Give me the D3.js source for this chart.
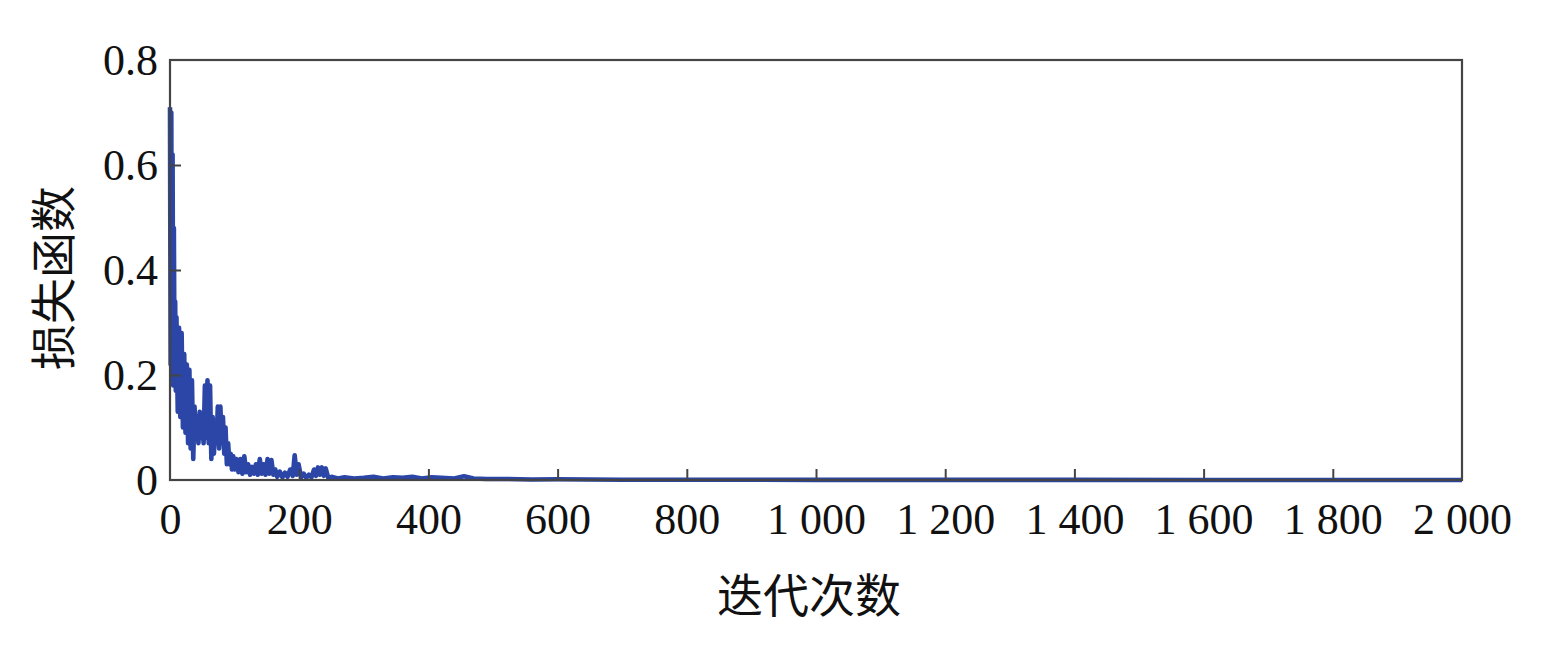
<!DOCTYPE html>
<html>
<head>
<meta charset="utf-8">
<script src="https://cdn.jsdelivr.net/npm/d3@7"></script>
<style>
  html, body { margin: 0; padding: 0; background: #fff; }
  svg { display: block; }
</style>
</head>
<body>
<svg id="chart" width="1549" height="653"></svg>
<script>
// ---- data ----
const iterations = [
  0,1,2,3,4,5,6,7,8,9,10,12,14,16,18,20,22,24,26,28,30,32,34,36,38,40,42,44,46,48,50,
  52,54,56,58,60,62,64,66,68,70,72,74,76,78,80,82,84,86,88,90,92,94,96,98,100,
  103,106,109,112,115,118,121,124,127,130,133,136,139,142,145,148,151,154,157,160,
  163,166,170,174,178,182,186,190,193,196,199,203,207,211,215,219,223,226,229,232,
  235,238,241,245,250,260,270,285,300,315,330,345,360,375,390,405,420,440,455,470,
  490,520,560,600,650,700,800,1000,1200,1400,1600,1800,2000
];
const loss = [
  0.71,0.22,0.70,0.19,0.62,0.18,0.48,0.20,0.34,0.17,0.31,0.13,0.29,0.12,0.28,0.10,0.24,0.09,0.22,0.07,0.21,
  0.06,0.19,0.04,0.14,0.08,0.12,0.07,0.13,0.08,0.12,
  0.07,0.18,0.08,0.19,0.07,0.18,0.04,0.12,0.05,0.11,0.07,0.14,0.06,0.14,0.07,0.12,0.05,0.10,0.03,0.07,0.03,0.05,0.02,0.045,0.02,
  0.04,0.015,0.04,0.012,0.045,0.015,0.03,0.01,0.025,0.012,0.03,0.01,0.04,0.012,0.03,0.01,0.04,0.012,0.038,0.01,
  0.02,0.006,0.016,0.005,0.014,0.006,0.02,0.008,0.047,0.01,0.03,0.005,0.012,0.004,0.01,0.005,0.02,0.008,0.024,0.01,
  0.024,0.008,0.022,0.004,0.006,0.003,0.005,0.003,0.004,0.006,0.003,0.005,0.004,0.006,0.003,0.005,0.004,0.003,0.007,0.003,
  0.002,0.002,0.001,0.0015,0.001,0.0005,0.0005,0.0003,0.0002,0.0002,0.0001,0.0001,0.0001
];
const xTicks = [0,200,400,600,800,1000,1200,1400,1600,1800,2000];
const xTickLabels = ["0","200","400","600","800","1 000","1 200","1 400","1 600","1 800","2 000"];
const yTicks = [0,0.2,0.4,0.6,0.8];
const yTickLabels = ["0","0.2","0.4","0.6","0.8"];
const xTitle = "迭代次数";
const yTitle = "损失函数";

// ---- layout ----
const svg = d3.select("#chart");
const L = 170, R = 1462, T = 60, B = 480;
const x = d3.scaleLinear().domain([0, 2000]).range([L, R]);
const y = d3.scaleLinear().domain([0, 0.8]).range([B, T]);

const frameColor = "#444";
const lineColor = "#2b46a6";
const numFont = "'Liberation Serif', 'DejaVu Serif', serif";
const cjkFont = "'Noto Sans CJK SC', sans-serif";

// data line
const data = iterations.map((d, i) => [d, loss[i]]);
svg.append("path")
  .datum(data)
  .attr("fill", "none")
  .attr("stroke", lineColor)
  .attr("stroke-width", 4.6)
  .attr("stroke-linejoin", "round")
  .attr("d", d3.line().x(d => x(d[0])).y(d => y(d[1])));

// frame
svg.append("rect")
  .attr("x", L).attr("y", T)
  .attr("width", R - L).attr("height", B - T)
  .attr("fill", "none")
  .attr("stroke", frameColor)
  .attr("stroke-width", 2.2);

// bottom axis (ticks inward)
const xAxis = d3.axisBottom(x)
  .tickValues(xTicks)
  .tickSizeInner(-11)
  .tickSizeOuter(0)
  .tickPadding(23)
  .tickFormat((d, i) => xTickLabels[i]);
const gx = svg.append("g").attr("transform", `translate(0,${B})`).call(xAxis);
gx.select(".domain").remove();
gx.selectAll(".tick line").attr("stroke", frameColor).attr("stroke-width", 2);
gx.selectAll(".tick text")
  .attr("fill", "#111")
  .style("font-family", numFont)
  .style("font-size", "44px");

// left axis (ticks inward)
const yAxis = d3.axisLeft(y)
  .tickValues(yTicks)
  .tickSizeInner(-11)
  .tickSizeOuter(0)
  .tickPadding(12)
  .tickFormat((d, i) => yTickLabels[i]);
const gy = svg.append("g").attr("transform", `translate(${L},0)`).call(yAxis);
gy.select(".domain").remove();
gy.selectAll(".tick line").attr("stroke", frameColor).attr("stroke-width", 2);
gy.selectAll(".tick text")
  .attr("fill", "#111")
  .style("font-family", numFont)
  .style("font-size", "44px");
// hide tick marks at the frame corners
gy.selectAll(".tick").filter(d => d === 0 || d === 0.8).select("line").remove();
gx.selectAll(".tick").filter(d => d === 0 || d === 2000).select("line").remove();

// titles
svg.append("text")
  .attr("x", 809).attr("y", 600)
  .attr("text-anchor", "middle")
  .attr("dominant-baseline", "middle")
  .attr("fill", "#111")
  .style("font-family", cjkFont)
  .style("font-size", "46px")
  .text(xTitle);

svg.append("text")
  .attr("transform", "translate(58,278) rotate(-90)")
  .attr("text-anchor", "middle")
  .attr("dominant-baseline", "middle")
  .attr("fill", "#111")
  .style("font-family", cjkFont)
  .style("font-size", "46px")
  .text(yTitle);
</script>
</body>
</html>
